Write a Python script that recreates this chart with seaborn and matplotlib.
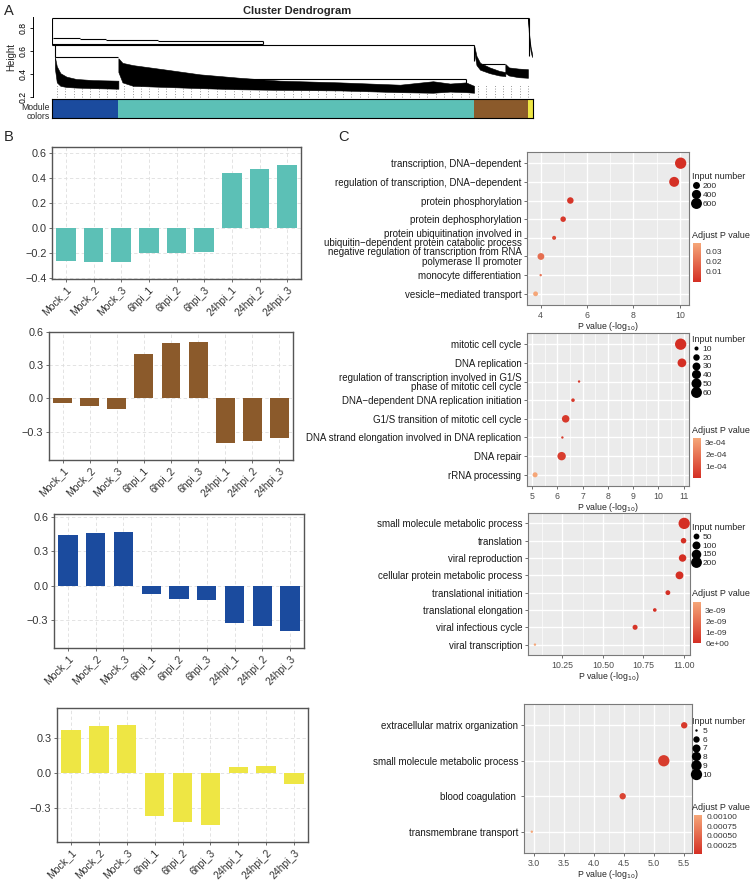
import numpy as np
import pandas as pd
import matplotlib
matplotlib.use("Agg")
import matplotlib.pyplot as plt
import matplotlib.ticker as mticker
import seaborn as sns
from matplotlib.colors import LinearSegmentedColormap, Normalize
from matplotlib.cm import ScalarMappable
from matplotlib.lines import Line2D

# ---------------- data ----------------
# A: module sizes (genes) in dendrogram order
module_names = ["blue", "turquoise", "brown", "yellow"]
module_sizes = [274, 1480, 224, 22]
module_hex = ["#1B4B9E", "#5CC0B6", "#8B5A2B", "#EEE644"]

# dendrogram branches, gene index / height
branch_g0 = [0, 6, 116, 225, 441, 0, 0, 12, 782, 1790]
branch_g1 = [1982, 116, 225, 441, 877, 877, 1755, 276, 1721, 1885]
branch_h = [0.893, 0.713, 0.704, 0.700, 0.692, 0.665, 0.655, 0.552, 0.357, 0.49]
drop_g = [0, 877, 12, 1982, 1755, 1721]
drop_lo = [0.655, 0.665, 0.552, 0.56, 0.52, 0.30]
drop_hi = [0.893, 0.692, 0.655, 0.893, 0.655, 0.357]

blue_g = [12, 20, 35, 60, 100, 170, 276]
blue_hi = [0.552, 0.47, 0.41, 0.38, 0.36, 0.35, 0.345]
blue_lo = [0.45, 0.33, 0.30, 0.29, 0.285, 0.28, 0.275]
turq_g = [276, 293, 337, 478, 615, 782, 948, 1198, 1447, 1584, 1655, 1721, 1755]
turq_hi = [0.54, 0.50, 0.48, 0.44, 0.40, 0.37, 0.345, 0.33, 0.31, 0.34, 0.32, 0.33, 0.30]
turq_lo = [0.42, 0.33, 0.30, 0.29, 0.28, 0.27, 0.265, 0.26, 0.245, 0.24, 0.25, 0.245, 0.24]
brown1_g = [1755, 1765, 1780, 1820, 1860, 1885]
brown1_hi = [0.655, 0.56, 0.50, 0.46, 0.43, 0.42]
brown1_lo = [0.60, 0.48, 0.44, 0.41, 0.39, 0.385]
brown2_g = [1885, 1900, 1940, 1979]
brown2_hi = [0.49, 0.46, 0.45, 0.445]
brown2_lo = [0.41, 0.39, 0.375, 0.37]
yellow_g = [1980, 1984, 1990, 1996]
yellow_hi = [0.893, 0.75, 0.64, 0.58]
yellow_lo = [0.85, 0.70, 0.60, 0.55]

# B: module eigengene per sample
samples = ["Mock_1", "Mock_2", "Mock_3", "6hpi_1", "6hpi_2", "6hpi_3",
           "24hpi_1", "24hpi_2", "24hpi_3"]
turquoise_vals = [-0.267, -0.272, -0.272, -0.205, -0.205, -0.197, 0.435, 0.47, 0.50]
brown_vals = [-0.042, -0.072, -0.099, 0.40, 0.50, 0.51, -0.40, -0.38, -0.36]
blue_vals = [0.44, 0.46, 0.47, -0.07, -0.11, -0.12, -0.32, -0.35, -0.39]
yellow_vals = [0.37, 0.405, 0.41, -0.37, -0.42, -0.44, 0.055, 0.065, -0.09]

# C: GO enrichment per module
terms1 = ["transcription, DNA\u2212dependent",
          "regulation of transcription, DNA\u2212dependent",
          "protein phosphorylation",
          "protein dephosphorylation",
          "protein ubiquitination involved in\nubiquitin\u2212dependent protein catabolic process",
          "negative regulation of transcription from RNA\npolymerase II promoter",
          "monocyte differentiation",
          "vesicle\u2212mediated transport"]
logp1 = [10.04, 9.76, 5.28, 4.97, 4.58, 4.01, 4.0, 3.78]
count1 = [650, 480, 170, 115, 60, 190, 40, 85]
padj1 = [0.0002, 0.0005, 0.002, 0.003, 0.008, 0.02, 0.022, 0.038]

terms2 = ["mitotic cell cycle", "DNA replication",
          "regulation of transcription involved in G1/S\nphase of mitotic cell cycle",
          "DNA\u2212dependent DNA replication initiation",
          "G1/S transition of mitotic cell cycle",
          "DNA strand elongation involved in DNA replication",
          "DNA repair", "rRNA processing"]
logp2 = [10.88, 10.93, 6.86, 6.62, 6.33, 6.20, 6.17, 5.12]
count2 = [65, 37, 8, 9, 27, 8, 34, 13]
padj2 = [2e-6, 2e-6, 2e-5, 3e-5, 3e-5, 4e-5, 4e-5, 3.4e-4]

terms3 = ["small molecule metabolic process", "translation", "viral reproduction",
          "cellular protein metabolic process", "translational initiation",
          "translational elongation", "viral infectious cycle", "viral transcription"]
logp3 = [11.004, 11.0, 10.994, 10.975, 10.903, 10.822, 10.70, 10.08]
count3 = [220, 45, 85, 95, 35, 24, 38, 20]
padj3 = [1e-11, 1e-11, 1e-11, 2e-11, 5e-11, 8e-11, 2e-10, 3.8e-9]

terms4 = ["extracellular matrix organization", "small molecule metabolic process",
          "blood coagulation ", "transmembrane transport"]
logp4 = [5.5, 5.16, 4.475, 2.96]
count4 = [6, 10, 6, 5]
padj4 = [0.0001, 0.00012, 0.0002, 0.00105]

# ---------------- layout ----------------
W, H = 750, 883
sns.set_theme(style="white")
plt.rcParams["font.family"] = ["Liberation Sans", "DejaVu Sans"]
plt.rcParams["axes.unicode_minus"] = True

fig = plt.figure(figsize=(W / 100, H / 100), dpi=100)


def px_rect(x0, y0, x1, y1):
    return [x0 / W, 1 - y1 / H, (x1 - x0) / W, (y1 - y0) / H]


def fig_xy(x, y):
    return x / W, 1 - y / H


cmap = LinearSegmentedColormap.from_list("padj", ["#D42F24", "#F5A678"])
minus_fmt = mticker.FuncFormatter(lambda v, p: f"{v:.1f}".replace("-", "\u2212"))

# panel letters
for letter, (x, y) in zip("ABC", [(4, 11), (4, 137), (338, 137)]):
    fig.text(*fig_xy(x, y), letter, fontsize=10.5, ha="left", va="center")

# ---------------- A: dendrogram ----------------
total = sum(module_sizes)
axd = fig.add_axes(px_rect(52, 15, 533, 98.5))
axd.set_xlim(0, total)
axd.set_ylim(0.19, 0.916)
leaf_pos = np.arange(20, total, 35)
axd.vlines(leaf_pos, 0.2, 0.31, colors="#777777", linestyles=(0, (1, 2.2)), lw=0.6, zorder=1)
axd.hlines(branch_h, branch_g0, branch_g1, colors="black", lw=0.8, zorder=3)
axd.vlines(drop_g, drop_lo, drop_hi, colors="black", lw=0.8, zorder=3)
for g, lo, hi in [(blue_g, blue_lo, blue_hi), (turq_g, turq_lo, turq_hi),
                  (brown1_g, brown1_lo, brown1_hi), (brown2_g, brown2_lo, brown2_hi),
                  (yellow_g, yellow_lo, yellow_hi)]:
    axd.fill_between(g, lo, hi, color="black", lw=0.4, zorder=2)
for side in ["top", "right", "bottom"]:
    axd.spines[side].set_visible(False)
axd.spines["left"].set_position(("outward", 14))
axd.spines["left"].set_bounds(0.2, 0.9)
axd.spines["left"].set_color("black")
axd.spines["left"].set_linewidth(0.7)
axd.set_xticks([])
axd.set_yticks([0.2, 0.4, 0.6, 0.8])
axd.tick_params(axis="y", left=True, length=2.5, width=0.6, labelsize=6.2, pad=1, colors="black")
plt.setp(axd.get_yticklabels(), rotation=90, va="center")
axd.set_ylabel("Height", fontsize=7, labelpad=2)
fig.text(*fig_xy(297, 11), "Cluster Dendrogram", fontsize=8, weight="bold", ha="center", va="center")

axm = fig.add_axes(px_rect(52, 99.3, 533, 118.3))
lefts = np.concatenate([[0], np.cumsum(module_sizes)[:-1]])
axm.barh([0] * len(module_sizes), module_sizes, left=lefts, color=module_hex, height=1, lw=0)
axm.set_xlim(0, total)
axm.set_ylim(-0.5, 0.5)
axm.set_xticks([])
axm.set_yticks([])
for s in axm.spines.values():
    s.set_color("black")
    s.set_linewidth(0.8)
fig.text(*fig_xy(50, 112), "Module\ncolors", fontsize=6.2, ha="right", va="center", linespacing=0.95)

# ---------------- B: eigengene bars ----------------
bar_panels = [
    ((52, 147, 301, 279), turquoise_vals, "#5CC0B6", (-0.41, 0.645), [-0.4, -0.2, 0.0, 0.2, 0.4, 0.6]),
    ((49, 332, 293, 460), brown_vals, "#8B5A2B", (-0.555, 0.6), [-0.3, 0.0, 0.3, 0.6]),
    ((54, 514, 304, 648), blue_vals, "#1B4B9E", (-0.54, 0.626), [-0.3, 0.0, 0.3, 0.6]),
    ((57, 708, 308, 842), yellow_vals, "#EEE644", (-0.59, 0.56), [-0.3, 0.0, 0.3]),
]
for rect, vals, color, ylim, yticks in bar_panels:
    ax = fig.add_axes(px_rect(*rect))
    df = pd.DataFrame({"sample": samples, "value": vals})
    sns.barplot(data=df, x="sample", y="value", color=color, saturation=1,
                width=0.7, linewidth=0, ax=ax)
    ax.set_xlim(-0.5, len(samples) - 0.5)
    ax.set_ylim(*ylim)
    ax.set_yticks(yticks)
    ax.yaxis.set_major_formatter(minus_fmt)
    ax.grid(True, color="#DEDEDE", linestyle=(0, (4, 3)), linewidth=0.6)
    ax.set_axisbelow(True)
    for s in ax.spines.values():
        s.set_visible(True)
        s.set_color("#555555")
        s.set_linewidth(1.0)
    ax.tick_params(axis="both", bottom=True, left=True, length=2.5, width=0.6,
                   color="#555555", labelcolor="#333333", pad=1.5)
    ax.tick_params(axis="y", labelsize=7.8)
    ax.tick_params(axis="x", labelsize=7.5)
    plt.setp(ax.get_xticklabels(), rotation=45, ha="right", rotation_mode="anchor")
    ax.set_xlabel("")
    ax.set_ylabel("")

# ---------------- C: GO dot plots ----------------
D_MIN, D_MAX = 2.4, 11.3


def diam(v, vmin, vmax):
    v = np.asarray(v, dtype=float)
    return D_MIN + (D_MAX - D_MIN) * np.sqrt((v - vmin) / (vmax - vmin))


dot_panels = [
    dict(rect=(527, 152, 689, 305), terms=terms1, logp=logp1, count=count1, padj=padj1,
         xlim=(3.41, 10.4), xticks=[4, 6, 8, 10], xminor=[3, 5, 7, 9], xfmt="%g",
         breaks=[200, 400, 600], leg_top=172, crange=(0.0, 0.038), cticks=[0.01, 0.02, 0.03],
         cfmt=lambda v: f"{v:.2f}", cb=(693, 243, 701, 282), cb_title=235),
    dict(rect=(527, 333, 689, 486), terms=terms2, logp=logp2, count=count2, padj=padj2,
         xlim=(4.8, 11.21), xticks=[5, 6, 7, 8, 9, 10, 11],
         xminor=[4.5, 5.5, 6.5, 7.5, 8.5, 9.5, 10.5, 11.5], xfmt="%g",
         breaks=[10, 20, 30, 40, 50, 60], leg_top=335, crange=(0.0, 3.4e-4),
         cticks=[1e-4, 2e-4, 3e-4], cfmt=lambda v: f"{v:.0e}", cb=(693, 438, 701, 478), cb_title=431),
    dict(rect=(528, 513, 690, 655), terms=terms3, logp=logp3, count=count3, padj=padj3,
         xlim=(10.037, 11.04), xticks=[10.25, 10.5, 10.75, 11.0],
         xminor=[10.125, 10.375, 10.625, 10.875], xfmt="%.2f",
         breaks=[50, 100, 150, 200], leg_top=523, crange=(0.0, 3.8e-9),
         cticks=[0, 1e-9, 2e-9, 3e-9], cfmt=lambda v: f"{v:.0e}", cb=(693, 602, 701, 643), cb_title=594),
    dict(rect=(524, 704, 692, 853), terms=terms4, logp=logp4, count=count4, padj=padj4,
         xlim=(2.83, 5.63), xticks=[3.0, 3.5, 4.0, 4.5, 5.0, 5.5],
         xminor=[3.25, 3.75, 4.25, 4.75, 5.25], xfmt="%.1f",
         breaks=[5, 6, 7, 8, 9, 10], leg_top=717, crange=(1e-5, 1.05e-3),
         cticks=[0.00025, 0.0005, 0.00075, 0.001], cfmt=lambda v: f"{v:.5f}",
         cb=(694, 815, 702, 854), cb_title=807),
]

for p in dot_panels:
    ax = fig.add_axes(px_rect(*p["rect"]))
    vmin, vmax = min(p["count"]), max(p["count"])
    df = pd.DataFrame({"term": p["terms"], "logp": p["logp"], "count": p["count"], "padj": p["padj"]})
    df["area"] = (diam(df["count"], vmin, vmax) * 0.72) ** 2
    amin, amax = df["area"].min(), df["area"].max()
    sns.scatterplot(data=df, x="logp", y="term", size="area", sizes=(amin, amax),
                    size_norm=(amin, amax), hue="padj", palette=cmap, hue_norm=p["crange"],
                    linewidth=0, edgecolor="none", legend=False, ax=ax, zorder=3)
    n = len(p["terms"])
    ax.set_ylim(n - 0.4, -0.6)
    ax.set_xlim(*p["xlim"])
    ax.set_xticks(p["xticks"])
    ax.xaxis.set_major_formatter(mticker.FormatStrFormatter(p["xfmt"]))
    ax.xaxis.set_minor_locator(mticker.FixedLocator(p["xminor"]))
    ax.set_facecolor("#EBEBEB")
    ax.grid(True, which="major", color="white", linewidth=1.0)
    ax.grid(True, which="minor", axis="x", color="white", linewidth=0.5)
    ax.set_axisbelow(True)
    for s in ax.spines.values():
        s.set_visible(True)
        s.set_color("#7A7A7A")
        s.set_linewidth(0.8)
    ax.tick_params(axis="both", which="major", bottom=True, left=True, length=2.5, width=0.6,
                   color="#555555", pad=1.5)
    ax.tick_params(axis="x", which="minor", length=0)
    ax.tick_params(axis="y", labelsize=7, labelcolor="#1A1A1A")
    ax.tick_params(axis="x", labelsize=6.3, labelcolor="#4D4D4D")
    plt.setp(ax.get_yticklabels(), linespacing=0.9)
    ax.set_ylabel("")
    ax.set_xlabel("P value (-log$_{10}$)", fontsize=6.3, labelpad=0.5)

    # size legend
    handles = [Line2D([0], [0], marker="o", ls="", color="black", markeredgewidth=0,
                      markersize=float(diam(b, vmin, vmax)) * 0.72) for b in p["breaks"]]
    fig.legend(handles, [str(b) for b in p["breaks"]], title="Input number",
               loc="upper left", bbox_to_anchor=fig_xy(692, p["leg_top"]),
               frameon=False, fontsize=6, title_fontsize=6.5, labelspacing=0.12,
               handlelength=1.0, handletextpad=0.3, borderpad=0, borderaxespad=0,
               alignment="left")

    # colour bar
    cax = fig.add_axes(px_rect(*p["cb"]))
    sm = ScalarMappable(norm=Normalize(*p["crange"]), cmap=cmap)
    cb = fig.colorbar(sm, cax=cax)
    cb.outline.set_visible(False)
    cb.set_ticks(p["cticks"])
    cb.ax.yaxis.set_major_formatter(mticker.FuncFormatter(lambda v, pos, f=p["cfmt"]: f(v)))
    cb.ax.tick_params(labelsize=6, length=2, width=0.6, color="white", direction="in",
                      pad=3, labelcolor="#333333")
    fig.text(*fig_xy(692, p["cb_title"]), "Adjust P value", fontsize=6.5, ha="left", va="center")

fig.savefig("out.png", dpi=100)
